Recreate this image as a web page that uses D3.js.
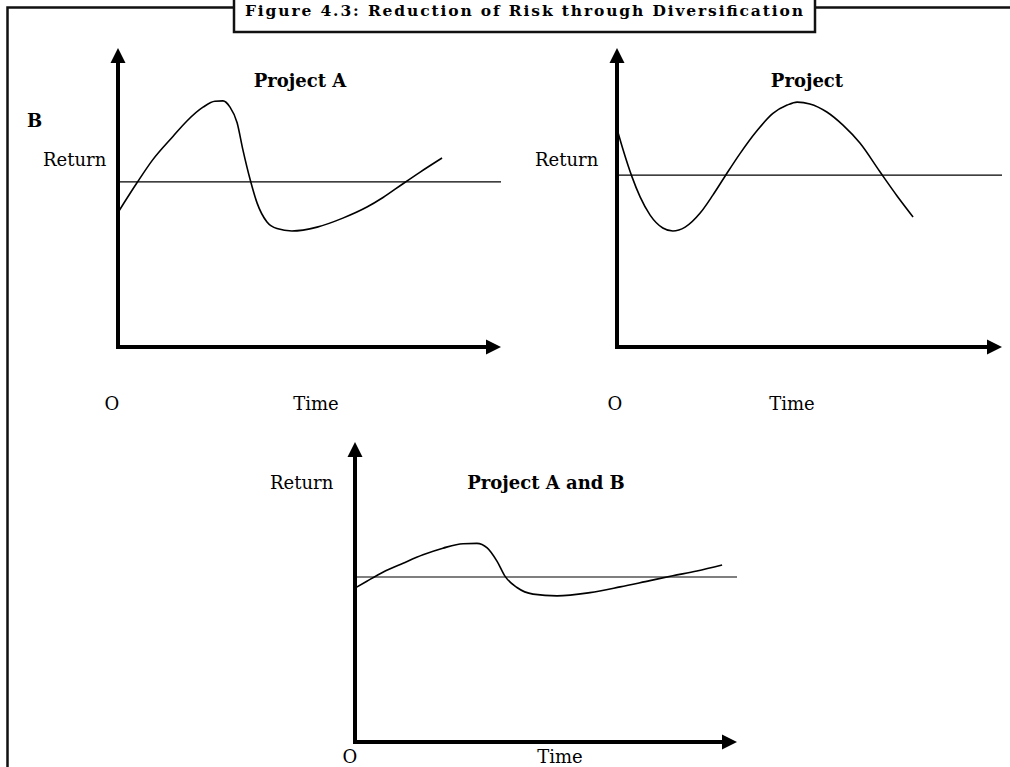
<!DOCTYPE html>
<html>
<head>
<meta charset="utf-8">
<script src="https://cdn.jsdelivr.net/npm/d3@7"></script>
<style>
  body { margin: 0; background: #fff; }
  text { font-family: "Palatino Linotype", "Book Antiqua", Palatino, "DejaVu Serif", serif; fill: #000; }
</style>
</head>
<body>
<div id="chart"></div>
<script>
// [time, return] readings, time and return both on a 0-100 scale
const curveA = [[0,45],[5,55],[9,62.5],[14.4,70.5],[18,75.6],[22.2,80.2],[25.3,82.2],[27.4,82.3],[29.2,80.3],
  [31.1,75],[32.6,66],[34.5,56],[36.3,48.2],[38.9,41.8],[41.5,39.6],[45.4,38.8],[52,40.1],[58.7,43.1],
  [65,46.8],[69.2,50],[74.4,54.6],[78.9,58.5],[84.6,63.2]];
const curveB = [[0.3,71.6],[1.6,65.9],[3.9,56.9],[6,50.2],[8.6,44.1],[11.9,39.8],[14.5,38.8],[17.7,40.1],
  [21.6,44.8],[24.9,50.8],[28.1,57.2],[31.9,64.6],[36.4,72.4],[40.5,78.1],[44.2,80.9],[46.8,81.9],
  [50.1,81.3],[54.5,78.6],[58.7,74.2],[63.1,68.2],[68.3,58.6],[72.7,50.6],[76.9,43.5]];
const curveAB = [[0,51.3],[3.1,53.6],[7.3,56.6],[12.6,59.6],[17.8,62.4],[23,64.6],[28.3,66.1],[31.9,66.2],
  [34.6,64.7],[37.2,60.2],[39.3,55.2],[42.4,51.5],[46.6,49.3],[52.9,48.7],[61.5,49.8],[69.4,51.7],
  [77.2,53.8],[83.2,55.4],[89.5,57],[96.1,59]];
const meanReturns = [55.2, 57.5, 55];
const panelTitles = ["Project A", "Project", "Project A and B"];

const width = 1010, height = 767;

const svg = d3.select("#chart").append("svg")
  .attr("width", width)
  .attr("height", height);

// outer frame + title box
svg.append("path")
  .attr("d", "M7.5,770V7.5H1012")
  .attr("fill", "none")
  .attr("stroke", "#111")
  .attr("stroke-width", 2.5);
svg.append("rect")
  .attr("x", 234).attr("y", -5)
  .attr("width", 581).attr("height", 37)
  .attr("fill", "#fff")
  .attr("stroke", "#111")
  .attr("stroke-width", 2.5);
svg.append("text")
  .attr("x", 245).attr("y", 16)
  .attr("textLength", 558)
  .attr("lengthAdjust", "spacing")
  .style("font-size", "15.5px")
  .style("font-weight", "bold")
  .text("Figure 4.3: Reduction of Risk through Diversification");

svg.append("text")
  .attr("x", 27).attr("y", 127)
  .style("font-size", "18px")
  .style("font-weight", "bold")
  .text("B");

const panels = [
  {data: curveA, ox: 118, oy: 347, w: 383, h: 299, title: [300, 87], ret: [43, 166], o: [112, 410], time: [316, 410]},
  {data: curveB, ox: 617, oy: 347, w: 385, h: 299, title: [807, 87], ret: [535, 166], o: [615, 410], time: [792, 410]},
  {data: curveAB, ox: 355, oy: 742, w: 382, h: 300, title: [546, 489], ret: [270, 489], o: [350, 763], time: [560, 763]}
];

const line = d3.line().curve(d3.curveMonotoneX);

panels.forEach((p, i) => {
  const x = d3.scaleLinear().domain([0, 100]).range([p.ox, p.ox + p.w]);
  const y = d3.scaleLinear().domain([0, 100]).range([p.oy, p.oy - p.h]);
  const g = svg.append("g");
  const ah = 15, aw = 7.5;

  // axes with arrowheads
  g.append("line")
    .attr("x1", x(0)).attr("y1", y(0) + 2)
    .attr("x2", x(0)).attr("y2", y(100) + ah - 1)
    .attr("stroke", "#000").attr("stroke-width", 4);
  g.append("path")
    .attr("d", `M${x(0)},${y(100)}L${x(0) - aw},${y(100) + ah}L${x(0) + aw},${y(100) + ah}Z`)
    .attr("fill", "#000");
  g.append("line")
    .attr("x1", x(0) - 2).attr("y1", y(0))
    .attr("x2", x(100) - ah + 1).attr("y2", y(0))
    .attr("stroke", "#000").attr("stroke-width", 4);
  g.append("path")
    .attr("d", `M${x(100)},${y(0)}L${x(100) - ah},${y(0) - aw}L${x(100) - ah},${y(0) + aw}Z`)
    .attr("fill", "#000");

  // average return line
  g.append("line")
    .attr("x1", x(0)).attr("x2", x(100))
    .attr("y1", y(meanReturns[i])).attr("y2", y(meanReturns[i]))
    .attr("stroke", "#000").attr("stroke-width", 1.2);

  // return curve
  g.append("path")
    .attr("d", line(p.data.map(d => [x(d[0]), y(d[1])])))
    .attr("fill", "none")
    .attr("stroke", "#000")
    .attr("stroke-width", 1.6);

  g.append("text")
    .attr("x", p.title[0]).attr("y", p.title[1])
    .attr("text-anchor", "middle")
    .style("font-size", "18px").style("font-weight", "bold")
    .text(panelTitles[i]);
  g.append("text")
    .attr("x", p.ret[0]).attr("y", p.ret[1])
    .style("font-size", "18px")
    .text("Return");
  g.append("text")
    .attr("x", p.o[0]).attr("y", p.o[1])
    .attr("text-anchor", "middle")
    .style("font-size", "18px")
    .text("O");
  g.append("text")
    .attr("x", p.time[0]).attr("y", p.time[1])
    .attr("text-anchor", "middle")
    .style("font-size", "18px")
    .text("Time");
});
</script>
</body>
</html>
